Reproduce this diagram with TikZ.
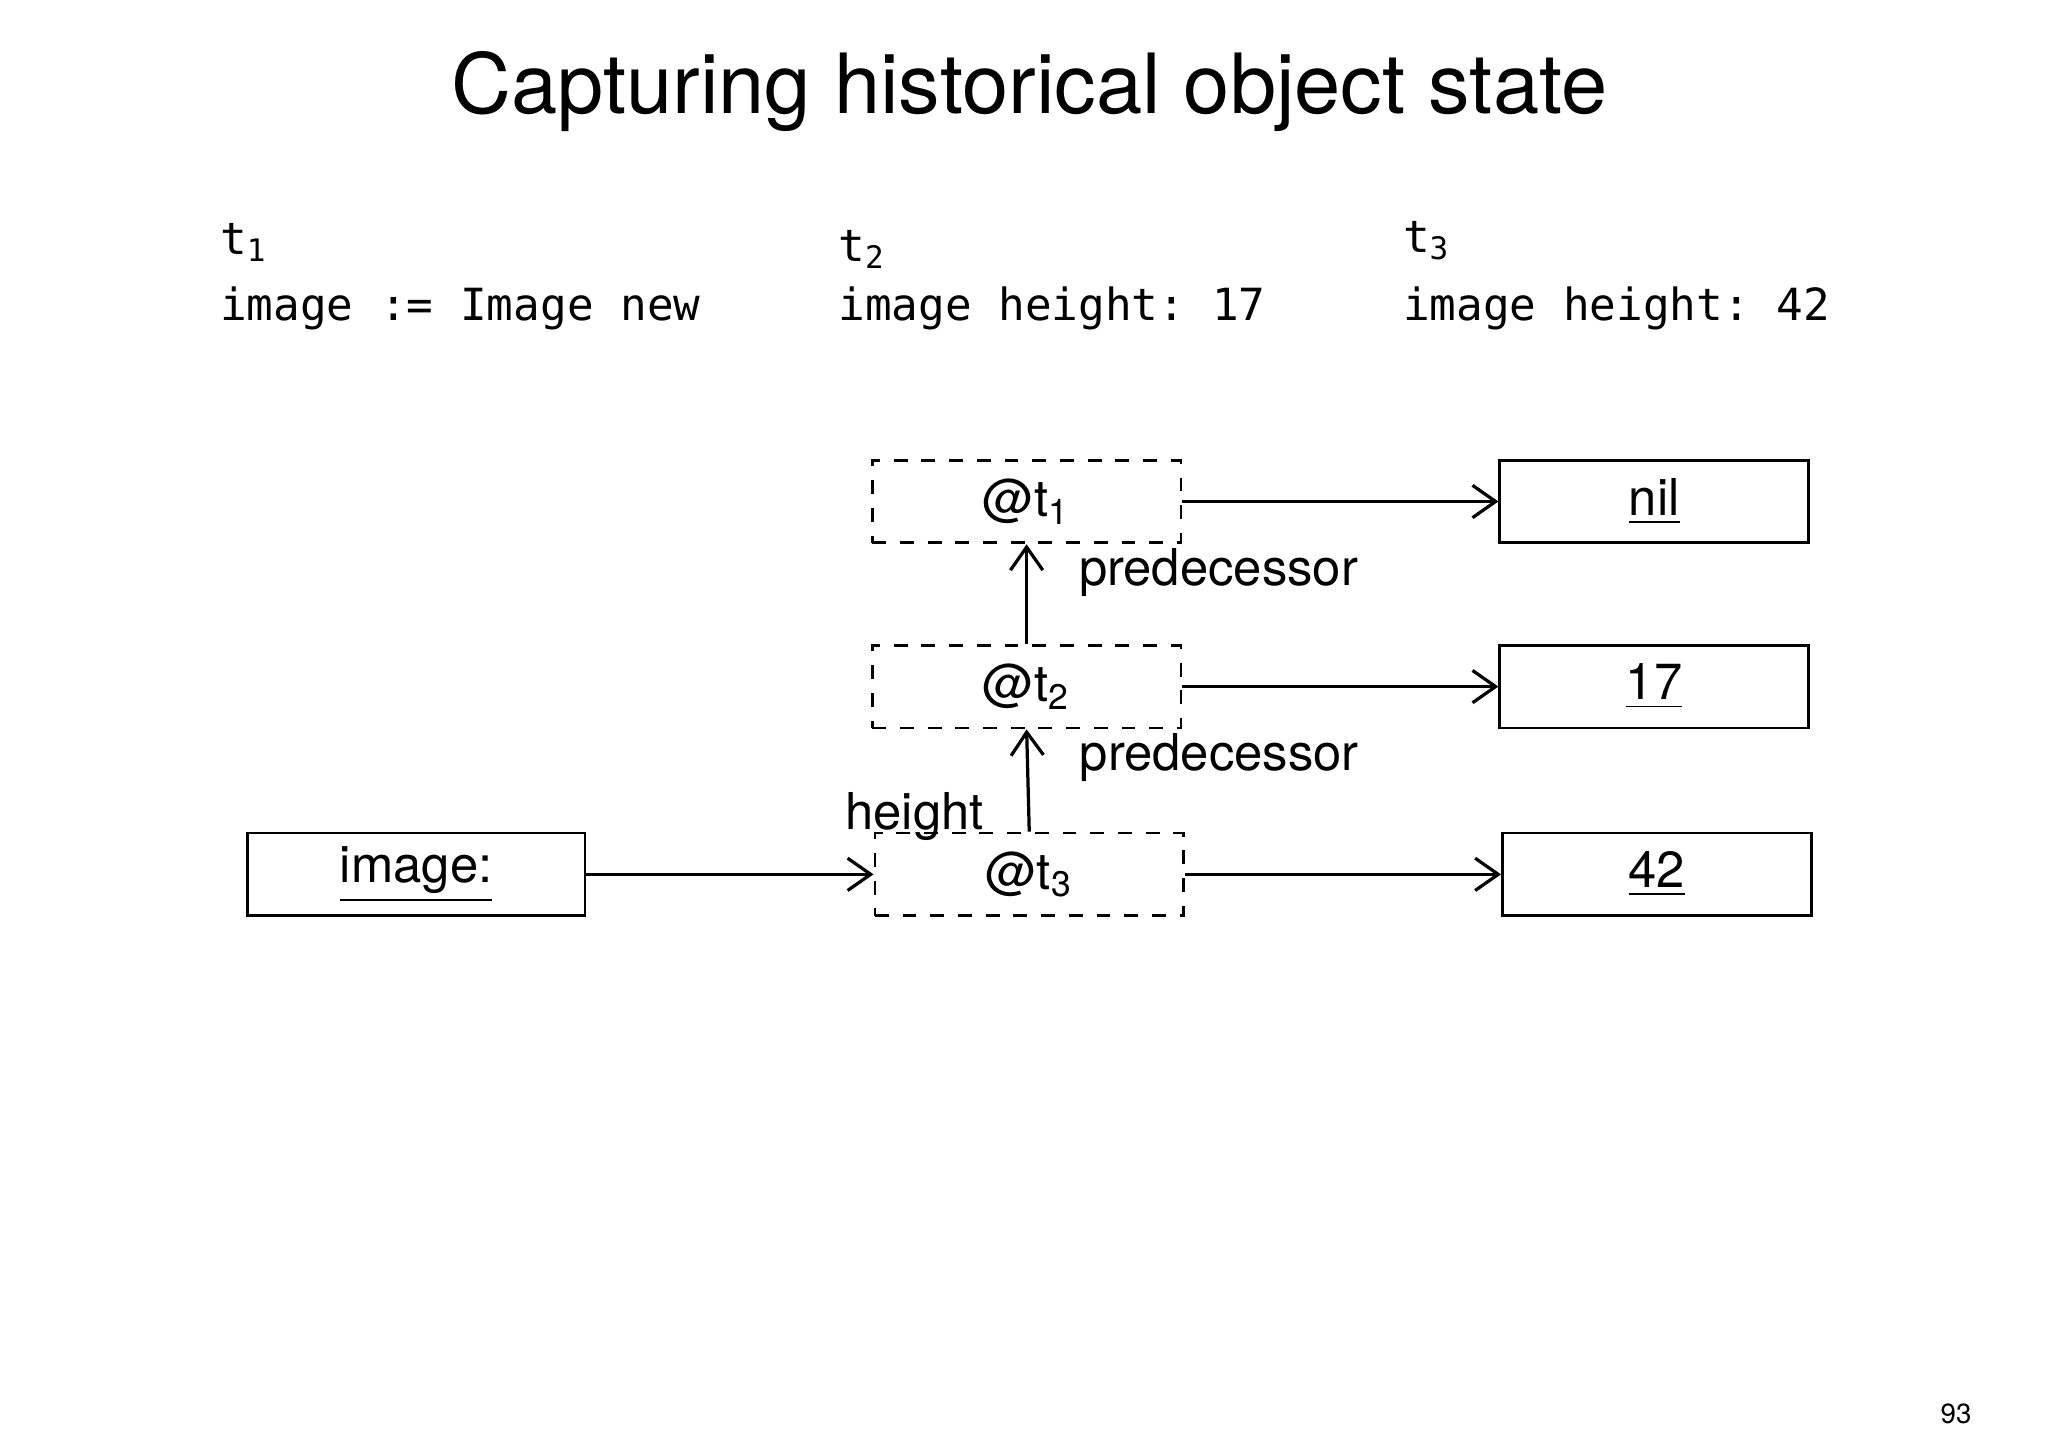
\documentclass[tikz,border=0pt]{standalone}
\usepackage{fontspec}
\setmainfont{TeX Gyre Heros}
\setmonofont{DejaVu Sans Mono}
\usetikzlibrary{arrows.meta}
\begin{document}
\begin{tikzpicture}[x=0.01cm,y=-0.01cm,
  box/.style={draw,line width=0.6pt,minimum width=2.35cm,minimum height=0.63cm,inner sep=0pt,font=\fontsize{11}{13}\selectfont},
  dbox/.style={box,dashed},
  arr/.style={line width=0.7pt,-{Straight Barb[length=5pt,width=7pt]}},
  lab/.style={font=\fontsize{11}{13}\selectfont,inner sep=1pt},
  code/.style={font=\ttfamily\fontsize{9.6}{11}\selectfont,anchor=west,inner sep=0pt}]
\useasboundingbox (0,0) rectangle (1560,1103);
\node[font=\fontsize{18}{22}\selectfont] (title) at (784,70) {Capturing historical object state};
\node[code] (ta) at (167,185) {t\textsubscript{1}};
\node[code] (tb) at (638,190) {t\textsubscript{2}};
\node[code] (tc) at (1068,183) {t\textsubscript{3}};
\node[code] (ca) at (167,235) {image := Image new};
\node[code] (cb) at (638,235) {image height: 17};
\node[code] (cc) at (1068,235) {image height: 42};
\node[dbox] (a1) at (782,382) {@t\textsubscript{1}};
\node[dbox] (a2) at (782,523) {@t\textsubscript{2}};
\node[dbox] (a3) at (784,666) {@t\textsubscript{3}};
\node[box] (nil) at (1260,382) {\underline{nil}};
\node[box] (v17) at (1260,523) {\underline{17}};
\node[box] (v42) at (1262,666) {\underline{42}};
\node[box,minimum width=2.57cm] (img) at (317,666) {\underline{image:}};
\draw[arr] (a1) -- (nil);
\draw[arr] (a2) -- (v17);
\draw[arr] (a3) -- (v42);
\draw[arr] (img) -- node[lab,above,xshift=40,yshift=6] {height} (a3);
\draw[arr] (a3.north) -- node[lab,anchor=west,pos=0.72,xshift=10] {predecessor} (a2.south);
\draw[arr] (a2.north) -- node[lab,anchor=west,pos=0.72,xshift=10] {predecessor} (a1.south);
\node[font=\fontsize{6}{7}\selectfont] (pg) at (1490,1077) {93};
\end{tikzpicture}
\end{document}
